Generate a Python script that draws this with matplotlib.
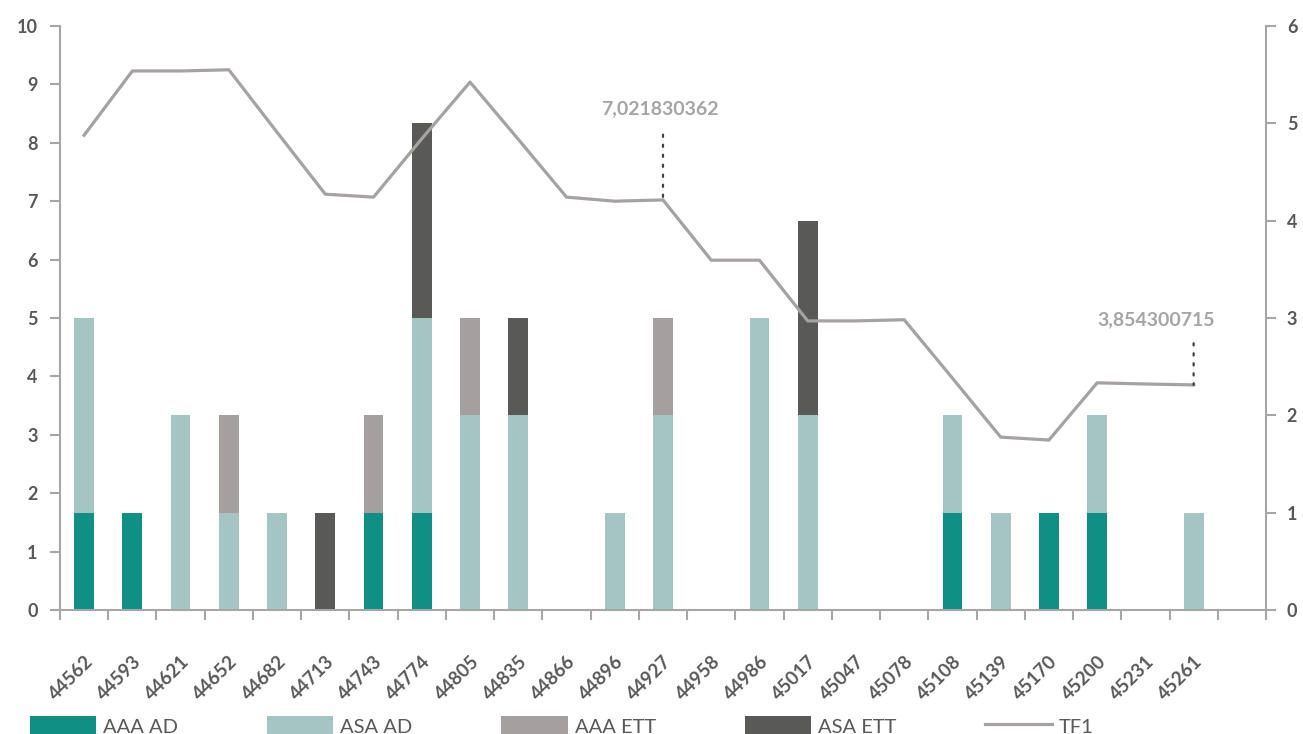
import numpy as np
import matplotlib
matplotlib.use("Agg")
import matplotlib.pyplot as plt

plt.rcParams['font.family'] = ['Lato', 'DejaVu Sans']

# Excel date serials shown as category labels
categories = ['44562', '44593', '44621', '44652', '44682', '44713', '44743', '44774',
              '44805', '44835', '44866', '44896', '44927', '44958', '44986', '45017',
              '45047', '45078', '45108', '45139', '45170', '45200', '45231', '45261']

aaa_ad = [1.667, 1.667, 0, 0, 0, 0, 1.667, 1.667, 0, 0, 0, 0,
          0, 0, 0, 0, 0, 0, 1.667, 0, 1.667, 1.667, 0, 0]
asa_ad = [3.333, 0, 3.333, 1.667, 1.667, 0, 0, 3.333, 3.333, 3.333, 0, 1.667,
          3.333, 0, 5.0, 3.333, 0, 0, 1.667, 1.667, 0, 1.667, 0, 1.667]
aaa_ett = [0, 0, 0, 1.667, 0, 0, 1.667, 0, 1.667, 0, 0, 0,
           1.667, 0, 0, 0, 0, 0, 0, 0, 0, 0, 0, 0]
asa_ett = [0, 0, 0, 0, 0, 1.667, 0, 3.333, 0, 1.667, 0, 0,
           0, 0, 0, 3.333, 0, 0, 0, 0, 0, 0, 0, 0]
tf1 = [8.13, 9.23, 9.23, 9.25, 8.18, 7.12, 7.07, 8.07, 9.04, 8.06, 7.07, 7.0,
       7.021830362, 5.99, 5.99, 4.95, 4.95, 4.97, 3.97, 2.96, 2.91, 3.89, 3.87, 3.854300715]

col_aaa_ad = '#108F84'
col_asa_ad = '#A5C5C2'
col_aaa_ett = '#A5A09F'
col_asa_ett = '#595957'
col_line = '#A5A2A1'
col_axis = '#A6A6A6'
col_text = '#595959'

fig = plt.figure(figsize=(13.03, 7.34), dpi=100)
ax = fig.add_axes([60 / 1303, 1 - 610 / 734, (1266 - 60) / 1303, (610 - 26) / 734])

x = np.arange(len(categories))
w = 0.41
b1 = np.array(aaa_ad)
b2 = b1 + np.array(asa_ad)
b3 = b2 + np.array(aaa_ett)
ax.bar(x, aaa_ad, w, color=col_aaa_ad, label='AAA AD', zorder=2)
ax.bar(x, asa_ad, w, bottom=b1, color=col_asa_ad, label='ASA AD', zorder=2)
ax.bar(x, aaa_ett, w, bottom=b2, color=col_aaa_ett, label='AAA ETT', zorder=2)
ax.bar(x, asa_ett, w, bottom=b3, color=col_asa_ett, label='ASA ETT', zorder=2)
ax.plot(x, tf1, color=col_line, lw=2.3, label='TF1', zorder=3)

# dotted leaders + value labels
ax.annotate('', xy=(x[12], tf1[12]), xytext=(0, 47), textcoords='offset points',
            arrowprops=dict(arrowstyle='-', color='#404040', lw=1.6,
                            ls=(0, (1, 3.5)), shrinkA=0, shrinkB=0))
ax.annotate(f"{tf1[12]}".replace('.', ','), xy=(x[12], tf1[12]), xytext=(-2, 66),
            textcoords='offset points', ha='center', va='center',
            fontsize=14, fontweight='bold', color='#A5A5A5')
ax.annotate('', xy=(x[23], tf1[23]), xytext=(0, 30), textcoords='offset points',
            arrowprops=dict(arrowstyle='-', color='#404040', lw=1.6,
                            ls=(0, (1, 3.5)), shrinkA=0, shrinkB=0))
ax.annotate(f"{tf1[23]}".replace('.', ','), xy=(x[23], tf1[23]), xytext=(-27, 47),
            textcoords='offset points', ha='center', va='center',
            fontsize=14, fontweight='bold', color='#A5A5A5')

ax.set_xlim(-0.5, len(categories) + 0.5)
ax.set_ylim(0, 10)
ax.set_yticks(range(0, 11))
ax.set_xticks(x)
ax.set_xticklabels(categories, rotation=45, ha='right', rotation_mode='anchor',
                   fontsize=13.5, fontweight='bold', color=col_text)
ax.set_xticks(np.arange(-0.5, len(categories) + 1), minor=True)
ax.tick_params(axis='x', which='major', length=0, pad=31)
ax.tick_params(axis='x', which='minor', length=7, width=1.5, color=col_axis)
ax.tick_params(axis='y', length=7, width=1.5, color=col_axis, labelcolor=col_text,
               labelsize=13, pad=9)
for t in ax.get_yticklabels():
    t.set_fontweight('bold')

for s in ['top', 'right']:
    ax.spines[s].set_visible(False)
for s in ['left', 'bottom']:
    ax.spines[s].set_color(col_axis)
    ax.spines[s].set_linewidth(1.5)

ax2 = ax.twinx()
ax2.set_ylim(0, 6)
ax2.set_yticks(range(0, 7))
ax2.tick_params(axis='y', length=7, width=1.5, color=col_axis, labelcolor=col_text,
                labelsize=13, pad=8)
for t in ax2.get_yticklabels():
    t.set_fontweight('bold')
for s in ['top', 'left', 'bottom']:
    ax2.spines[s].set_visible(False)
ax2.spines['right'].set_color(col_axis)
ax2.spines['right'].set_linewidth(1.5)

h, l = ax.get_legend_handles_labels()
order = [1, 2, 3, 4, 0]
fig.legend([h[i] for i in order], [l[i] for i in order], ncol=5, frameon=False,
           loc='center left', bbox_to_anchor=(0.009, 1 - 726 / 734),
           fontsize=14.5, labelcolor=col_text, handlelength=3.3, handleheight=1.2,
           handletextpad=0.35, columnspacing=4.4)

fig.savefig('out.png', dpi=100)
